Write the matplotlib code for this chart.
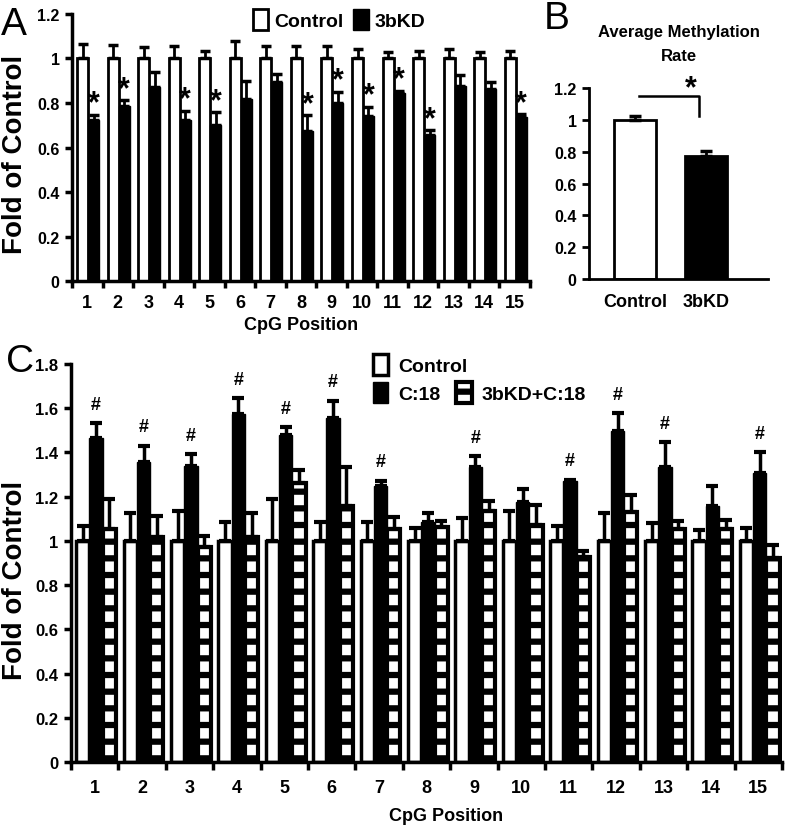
import numpy as np
from matplotlib import pyplot as plt
from matplotlib.ticker import FixedLocator

plt.rcParams['font.family'] = ['Liberation Sans Narrow', 'Liberation Sans', 'DejaVu Sans']
plt.rcParams['font.weight'] = 'bold'
plt.rcParams['axes.titleweight'] = 'bold'
plt.rcParams['hatch.linewidth'] = 4.5

positions = list(range(1, 16))
pos_labels = [str(p) for p in positions]
y_ticks_a = [0, 0.2, 0.4, 0.6, 0.8, 1.0, 1.2]
y_ticklabels_a = ['0', '0.2', '0.4', '0.6', '0.8', '1', '1.2']
y_ticks_c = [0, 0.2, 0.4, 0.6, 0.8, 1.0, 1.2, 1.4, 1.6, 1.8]
y_ticklabels_c = ['0', '0.2', '0.4', '0.6', '0.8', '1', '1.2', '1.4', '1.6', '1.8']

# panel A
a_control = [1.0] * 15
a_control_err = [0.065, 0.062, 0.05, 0.058, 0.032, 0.08, 0.058, 0.058, 0.058, 0.043,
                 0.028, 0.035, 0.043, 0.028, 0.032]
a_kd = [0.725, 0.788, 0.873, 0.725, 0.70, 0.818, 0.893, 0.675, 0.80, 0.743,
        0.845, 0.656, 0.878, 0.863, 0.736]
a_kd_err = [0.023, 0.025, 0.067, 0.04, 0.058, 0.082, 0.037, 0.071, 0.05, 0.04,
            0.01, 0.023, 0.048, 0.033, 0.014]
a_sig = [1, 2, 4, 5, 8, 9, 10, 11, 12, 15]

# panel B
b_labels = ['Control', '3bKD']
b_vals = [1.0, 0.776]
b_err = [0.023, 0.027]

# panel C
c_control = [1.0] * 15
c_control_err = [0.069, 0.127, 0.133, 0.087, 0.19, 0.087, 0.087, 0.057, 0.104, 0.133,
                 0.066, 0.127, 0.08, 0.05, 0.057]
c_c18 = [1.464, 1.358, 1.34, 1.574, 1.48, 1.554, 1.25, 1.084, 1.333, 1.175,
         1.273, 1.498, 1.333, 1.157, 1.306]
c_c18_err = [0.068, 0.073, 0.053, 0.071, 0.034, 0.08, 0.023, 0.041, 0.05, 0.06,
             0.004, 0.08, 0.113, 0.09, 0.094]
c_kdc18 = [1.054, 1.017, 0.971, 1.017, 1.26, 1.16, 1.054, 1.062, 1.137, 1.072,
           0.926, 1.13, 1.054, 1.054, 0.923]
c_kdc18_err = [0.136, 0.097, 0.053, 0.11, 0.06, 0.173, 0.053, 0.03, 0.042, 0.092,
               0.03, 0.078, 0.038, 0.042, 0.059]
c_sig = [1, 2, 3, 4, 5, 6, 7, 9, 11, 12, 13, 15]

fig = plt.figure(figsize=(7.88, 8.28), dpi=100)
x = np.array(positions, dtype=float)


def style_axis(ax, lw=2.5):
    for s in ['top', 'right']:
        ax.spines[s].set_visible(False)
    for s in ['left', 'bottom']:
        ax.spines[s].set_linewidth(lw)


def upper(err):
    return [np.zeros(len(err)), err]


# ---------------- A ----------------
axA = fig.add_axes([0.0914, 0.6594, 0.5812, 0.3225])
w = 0.36
ek = dict(ecolor='black', elinewidth=2, capsize=3.5, capthick=2.5)
bc = axA.bar(x - w / 2 + 0.03, a_control, w, color='white', edgecolor='black', linewidth=2,
             yerr=upper(a_control_err), error_kw=ek, label='Control')
bk = axA.bar(x + w / 2 + 0.03, a_kd, w, color='black', edgecolor='black', linewidth=1,
             yerr=upper(a_kd_err), error_kw=ek, label='3bKD')
for p in a_sig:
    i = p - 1
    axA.text(x[i] + w / 2 + 0.03, a_kd[i] + a_kd_err[i] + 0.05, '*', ha='center', va='center',
             fontsize=22, family='Liberation Sans', fontweight='bold')
axA.set_xlim(0.5, 15.5)
axA.set_ylim(0, 1.2)
axA.set_yticks(y_ticks_a)
axA.set_yticklabels(y_ticklabels_a)
axA.set_xticks(x)
axA.set_xticklabels(pos_labels)
axA.xaxis.set_minor_locator(FixedLocator(np.arange(0.5, 16, 1)))
axA.tick_params(axis='x', which='major', length=0, pad=9, labelsize=13)
axA.tick_params(axis='x', which='minor', length=5, width=2.5, direction='out')
axA.tick_params(axis='y', length=5, width=2.5, labelsize=11.5, pad=4)
style_axis(axA)
axA.legend(handles=[bc, bk], loc='upper left', bbox_to_anchor=(0.365, 1.07), ncol=2,
           frameon=False, fontsize=14, handlelength=0.8, handleheight=1.3,
           handletextpad=0.3, columnspacing=0.5, borderpad=0.2)
fig.text(0.019, 0.814, 'Fold of Control', rotation=90, ha='center', va='center',
         fontsize=20, family='Liberation Sans', fontweight='bold')
fig.text(0.382, 0.6063, 'CpG Position', ha='center', va='center', fontsize=13)
fig.text(0.018, 0.970, 'A', ha='center', va='center', fontsize=28, fontweight='normal',
         family='Liberation Sans')

# ---------------- B ----------------
axB = fig.add_axes([0.7475, 0.6618, 0.2272, 0.2307])
bx = np.arange(len(b_labels))
axB.bar(bx, b_vals, 0.59, color=['white', 'black'], edgecolor='black', linewidth=2,
        yerr=upper(b_err), error_kw=dict(ecolor='black', elinewidth=2, capsize=4, capthick=2.5))
axB.set_xlim(-0.65, 1.87)
axB.set_ylim(0, 1.2)
axB.set_yticks(y_ticks_a)
axB.set_yticklabels(y_ticklabels_a)
axB.set_xticks(bx)
axB.set_xticklabels(b_labels)
axB.tick_params(axis='x', length=0, pad=10, labelsize=13)
axB.tick_params(axis='y', length=5, width=2, labelsize=11.5, pad=4)
style_axis(axB, 2)
axB.plot([0.05, 0.9, 0.9], [1.149, 1.149, 1.027], color='black', lw=1.8)
axB.text(0.78, 1.20, '*', ha='center', va='center', fontsize=22, family='Liberation Sans',
         fontweight='bold')
axB.set_title('Average Methylation\nRate', fontsize=12, pad=20, linespacing=1.8)
fig.text(0.707, 0.977, 'B', ha='center', va='center', fontsize=28, fontweight='normal',
         family='Liberation Sans')

# ---------------- C ----------------
axC = fig.add_axes([0.0901, 0.0785, 0.9023, 0.4807])
w = 0.28
ek = dict(ecolor='black', elinewidth=2.5, capsize=4.5, capthick=3)
h1 = axC.bar(x - w + 0.03, c_control, w, color='white', edgecolor='black', linewidth=2.5,
             yerr=upper(c_control_err), error_kw=ek, label='Control')
h2 = axC.bar(x + 0.03, c_c18, w, color='black', edgecolor='black', linewidth=1,
             yerr=upper(c_c18_err), error_kw=ek, label='C:18')
h3 = axC.bar(x + w + 0.03, c_kdc18, w, color='white', edgecolor='black', linewidth=3,
             hatch='-', yerr=upper(c_kdc18_err), error_kw=ek, label='3bKD+C:18')
for p in c_sig:
    i = p - 1
    axC.text(x[i] + 0.03, c_c18[i] + c_c18_err[i] + 0.085, '#', ha='center', va='center',
             fontsize=13)
axC.set_xlim(0.5, 15.5)
axC.set_ylim(0, 1.8)
axC.set_yticks(y_ticks_c)
axC.set_yticklabels(y_ticklabels_c)
axC.set_xticks(x)
axC.set_xticklabels(pos_labels)
axC.xaxis.set_minor_locator(FixedLocator(np.arange(0.5, 16, 1)))
axC.tick_params(axis='x', which='major', length=0, pad=12, labelsize=13)
axC.tick_params(axis='x', which='minor', length=6, width=2.5, direction='out')
axC.tick_params(axis='y', length=5, width=2.5, labelsize=12, pad=4)
style_axis(axC)
blank = plt.Rectangle((0, 0), 0, 0, fill=False, edgecolor='none', visible=False)
axC.legend(handles=[h1, h2, blank, h3], labels=['Control', 'C:18', '', '3bKD+C:18'],
           loc='upper left', bbox_to_anchor=(0.405, 1.06), ncol=2,
           frameon=False, fontsize=14, handlelength=0.8, handleheight=1.3,
           handletextpad=0.5, columnspacing=-0.55, borderpad=0.2, labelspacing=0.35)
fig.text(0.019, 0.2995, 'Fold of Control', rotation=90, ha='center', va='center',
         fontsize=20, family='Liberation Sans', fontweight='bold')
fig.text(0.566, 0.014, 'CpG Position', ha='center', va='center', fontsize=13)
fig.text(0.025, 0.563, 'C', ha='center', va='center', fontsize=28, fontweight='normal',
         family='Liberation Sans')

fig.savefig('out.png', dpi=100)
